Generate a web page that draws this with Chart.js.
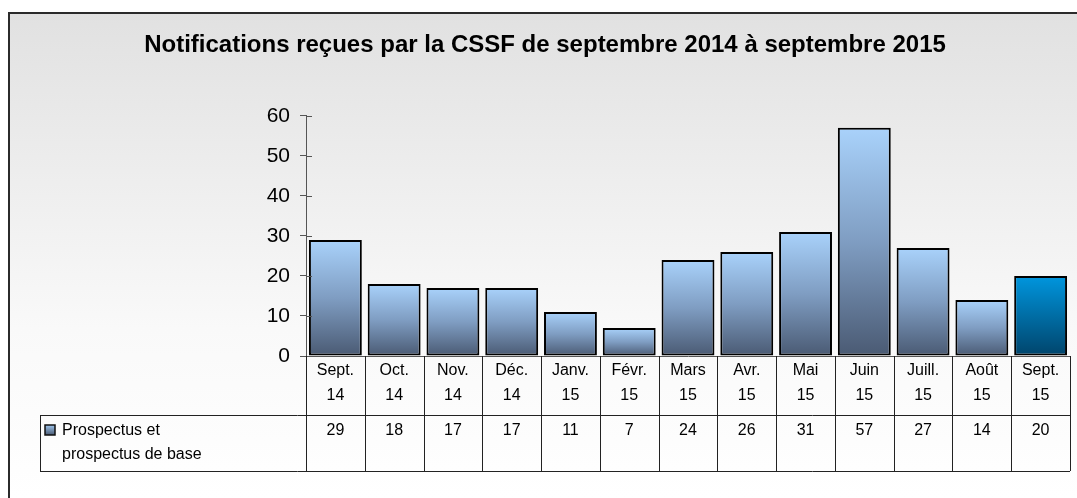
<!DOCTYPE html>
<html>
<head>
<meta charset="utf-8">
<script src="https://cdn.jsdelivr.net/npm/chart.js@4"></script>
<style>
  body { margin: 0; background: #fff; }
  #chart { display: block; }
</style>
</head>
<body>
<canvas id="chart" width="1077" height="498"></canvas>
<script>
const months = [
  ["Sept.", "14"], ["Oct.", "14"], ["Nov.", "14"], ["Déc.", "14"],
  ["Janv.", "15"], ["Févr.", "15"], ["Mars", "15"], ["Avr.", "15"],
  ["Mai", "15"], ["Juin", "15"], ["Juill.", "15"], ["Août", "15"], ["Sept.", "15"],
];
const notifications = [29, 18, 17, 17, 11, 7, 24, 26, 31, 57, 27, 14, 20];
const seriesName = ["Prospectus et", "prospectus de base"];
const yTicks = [0, 10, 20, 30, 40, 50, 60];
const titleText = "Notifications reçues par la CSSF de septembre 2014 à septembre 2015";

const FONT = "'Liberation Sans', Arial, sans-serif";

function barGradient(context) {
  const chart = context.chart;
  if (!chart.chartArea) return "#8fb0d8";
  const y = chart.scales.y;
  const top = y.getPixelForValue(context.raw);
  const bottom = y.getPixelForValue(0);
  const g = chart.ctx.createLinearGradient(0, top, 0, bottom);
  if (context.dataIndex === notifications.length - 1) {
    g.addColorStop(0, "#0096de");
    g.addColorStop(1, "#00446b");
  } else {
    g.addColorStop(0, "#a9d2fb");
    g.addColorStop(0.5, "#7f9dc2");
    g.addColorStop(1, "#4a5a73");
  }
  return g;
}

// frame background behind everything
const framePlugin = {
  id: "frame",
  beforeDraw(chart) {
    const ctx = chart.ctx;
    ctx.save();
    ctx.fillStyle = "#fff";
    ctx.fillRect(0, 0, chart.width, chart.height);
    const g = ctx.createLinearGradient(0, 12, 0, 498);
    g.addColorStop(0, "#e1e1e1");
    g.addColorStop(0.65, "#f9f9f9");
    g.addColorStop(1, "#ffffff");
    ctx.fillStyle = g;
    ctx.fillRect(8, 12, chart.width, chart.height);
    ctx.strokeStyle = "#2b2b2b";
    ctx.lineWidth = 2;
    ctx.beginPath();
    ctx.moveTo(9, chart.height);
    ctx.lineTo(9, 13);
    ctx.lineTo(chart.width, 13);
    ctx.stroke();
    ctx.restore();
  },
};

// data table under the x axis + tick marks right of the y axis
const tablePlugin = {
  id: "dataTable",
  afterDraw(chart) {
    const ctx = chart.ctx;
    const x = chart.scales.x;
    const y = chart.scales.y;
    const area = chart.chartArea;
    const half = (x.getPixelForValue(1) - x.getPixelForValue(0)) / 2;
    const top = area.bottom;
    const rowTop = 415;
    const rowBottom = 471;
    const tableLeft = 40;
    ctx.save();

    ctx.strokeStyle = "#555";
    ctx.lineWidth = 1;
    ctx.beginPath();
    yTicks.forEach((v) => {
      const py = Math.round(y.getPixelForValue(v)) + 0.5;
      ctx.moveTo(area.left, py);
      ctx.lineTo(area.left + 6, py);
    });
    ctx.stroke();

    ctx.strokeStyle = "#222";
    ctx.beginPath();
    for (let i = 0; i <= months.length; i++) {
      const px = Math.round(x.getPixelForValue(i) - half) + 0.5;
      ctx.moveTo(px, top);
      ctx.lineTo(px, rowBottom);
    }
    ctx.moveTo(tableLeft + 0.5, rowTop);
    ctx.lineTo(tableLeft + 0.5, rowBottom);
    ctx.moveTo(tableLeft, rowTop + 0.5);
    ctx.lineTo(area.right, rowTop + 0.5);
    ctx.moveTo(tableLeft, rowBottom + 0.5);
    ctx.lineTo(area.right, rowBottom + 0.5);
    ctx.stroke();

    ctx.fillStyle = "#000";
    ctx.font = "16px " + FONT;
    ctx.textAlign = "center";
    ctx.textBaseline = "middle";
    notifications.forEach((v, i) => {
      ctx.fillText(String(v), x.getPixelForValue(i), 431);
    });

    // legend key
    const g = ctx.createLinearGradient(0, 424, 0, 435);
    g.addColorStop(0, "#a9d2fb");
    g.addColorStop(1, "#4a5a73");
    ctx.fillStyle = g;
    ctx.fillRect(45, 425, 10, 10);
    ctx.strokeStyle = "#111";
    ctx.lineWidth = 1.5;
    ctx.strokeRect(45, 425, 10, 10);
    ctx.fillStyle = "#000";
    ctx.textAlign = "left";
    ctx.fillText(seriesName[0], 62, 431);
    ctx.fillText(seriesName[1], 62, 455);
    ctx.restore();
  },
};

const ctx = document.getElementById("chart").getContext("2d");
const chart = new Chart(ctx, {
  type: "bar",
  data: {
    labels: months,
    datasets: [
      {
        label: seriesName.join(" "),
        data: notifications,
        backgroundColor: barGradient,
        borderColor: "#000",
        borderWidth: 2,
        borderSkipped: false,
        barPercentage: 0.9,
        categoryPercentage: 1,
      },
    ],
  },
  options: {
    responsive: false,
    animation: false,
    layout: {
      padding: { left: 20, right: 7, top: 0, bottom: 83 },
    },
    scales: {
      x: {
        offset: true,
        grid: { display: false, drawTicks: false, tickLength: 0 },
        border: { display: true, color: "#555", width: 1 },
        ticks: {
          color: "#000",
          font: { family: FONT, size: 16, lineHeight: 1.56 },
          padding: 2,
          maxRotation: 0,
          autoSkip: false,
        },
        afterFit(scale) {
          scale.height = 59;
        },
      },
      y: {
        min: 0,
        max: 60,
        afterBuildTicks(scale) {
          scale.ticks = yTicks.map((v) => ({ value: v }));
        },
        grid: {
          drawOnChartArea: false,
          color: "#555",
          tickLength: 6,
        },
        border: { display: true, color: "#555", width: 1 },
        ticks: {
          color: "#000",
          font: { family: FONT, size: 21 },
          padding: 10,
        },
        afterFit(scale) {
          scale.width = 286;
        },
      },
    },
    plugins: {
      title: {
        display: true,
        text: titleText,
        color: "#000",
        font: { family: FONT, size: 24, weight: "bold" },
        padding: { top: 31, bottom: 56 },
      },
      legend: { display: false },
      tooltip: { enabled: false },
    },
  },
  plugins: [framePlugin, tablePlugin],
});
</script>
</body>
</html>
